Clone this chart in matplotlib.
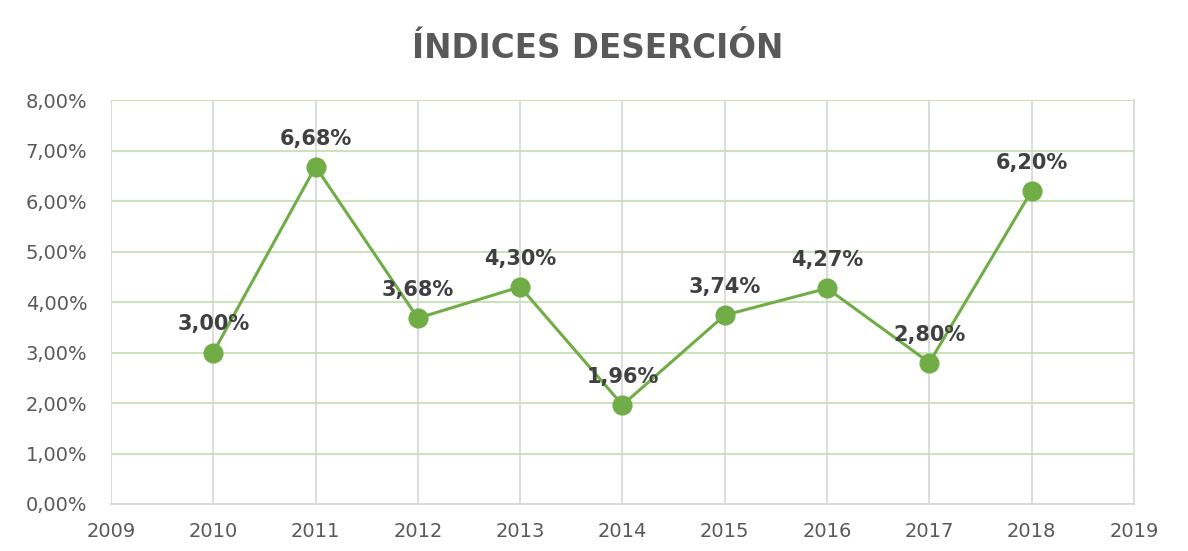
import matplotlib
matplotlib.use('Agg')
import matplotlib.pyplot as plt
from matplotlib.ticker import FuncFormatter

# Data
years = [2010, 2011, 2012, 2013, 2014, 2015, 2016, 2017, 2018]
rates = [3.00, 6.68, 3.68, 4.30, 1.96, 3.74, 4.27, 2.80, 6.20]
x_ticks = list(range(2009, 2020))
y_ticks = [0, 1, 2, 3, 4, 5, 6, 7, 8]

plt.rcParams['font.family'] = ['DejaVu Sans']

fig = plt.figure(figsize=(11.88, 5.51), dpi=100)
ax = fig.add_axes([0.0934, 0.0853, 0.8611, 0.7332])

green = '#70AD47'
ax.plot(years, rates, color=green, linewidth=2.2, marker='o',
        markersize=13.5, markerfacecolor=green, markeredgecolor=green, zorder=3)

# Data labels
for x, y in zip(years, rates):
    ax.annotate(f"{y:.2f}%".replace('.', ','), (x, y), xytext=(0, 13),
                textcoords='offset points', ha='center', va='bottom',
                fontsize=15, fontweight='bold', color='#404040', zorder=4)

ax.set_xlim(2009, 2019)
ax.set_ylim(0, 8)
ax.set_xticks(x_ticks)
ax.set_yticks(y_ticks)
ax.yaxis.set_major_formatter(FuncFormatter(lambda v, p: f"{v:.2f}%".replace('.', ',')))

# Grid: horizontal green, vertical gray
ax.grid(axis='y', color='#C5E0B4', linewidth=1.3)
ax.grid(axis='x', color='#D9D9D9', linewidth=1.3)
ax.set_axisbelow(True)

for side in ['top', 'left']:
    ax.spines[side].set_visible(False)
for side in ['bottom', 'right']:
    ax.spines[side].set_color('#D9D9D9')
    ax.spines[side].set_linewidth(1.3)

ax.tick_params(length=0, labelsize=14, colors='#595959')
ax.tick_params(axis='x', pad=13)
ax.tick_params(axis='y', pad=17)

fig.text(0.503, 0.912, "ÍNDICES DESERCIÓN", ha='center', va='center',
         fontsize=23.5, fontweight='bold', color='#595959')

fig.savefig('out.png', dpi=100, facecolor='white')
